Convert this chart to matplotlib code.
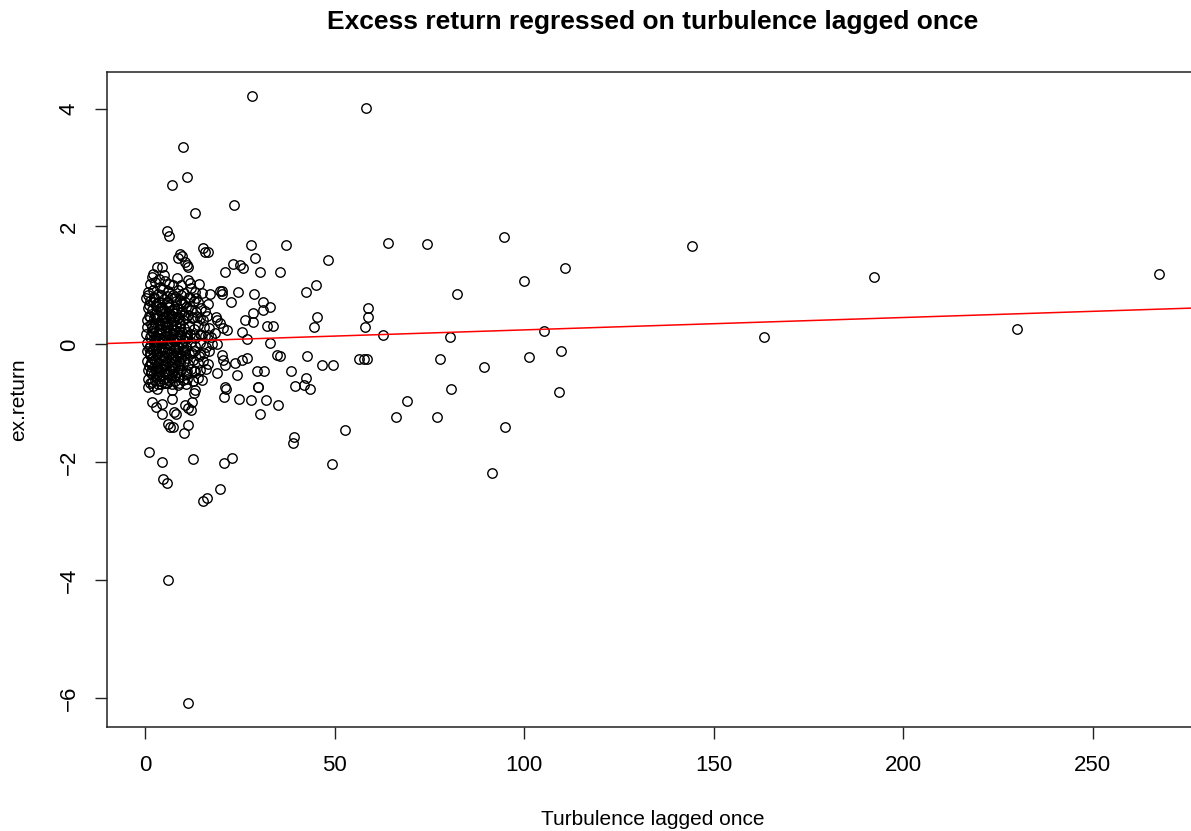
import matplotlib
matplotlib.use('Agg')
import matplotlib.pyplot as plt

plt.rcParams['font.family'] = ['Liberation Sans', 'DejaVu Sans']

# dense cluster near zero turbulence, read band by band
core_x = [1.8, 2.2, 3.1, 4.4, 3.6, 5.0,
          1.2, 2.6, 4.0, 6.2, 7.3, 8.4, 11.4, 11.9, 14.3, 5.3, 9.6,
          0.9, 2.0, 3.3, 4.7, 6.0, 8.8, 10.2, 13.2, 15.0, 17.2, 19.9, 20.4, 20.2, 7.4, 12.0,
          0.26, 1.4, 2.5, 3.7, 4.9, 5.8, 6.9, 8.1, 9.3, 10.6, 11.8, 12.9, 14.1, 16.7,
          0.8, 1.9, 2.9, 3.9, 4.6, 5.5, 6.4, 7.2, 8.5, 9.7, 10.9, 12.1, 13.5, 14.8, 15.9,
          0.4, 1.1, 2.3, 3.2, 4.1, 5.0, 5.9, 6.8, 7.7, 8.9, 10.0, 11.3, 12.5, 13.8, 15.2, 16.4, 18.7, 19.1,
          0.6, 1.5, 2.4, 3.4, 4.3, 5.2, 6.1, 7.0, 8.0, 9.1, 10.3, 11.6, 12.8, 14.0, 15.5, 16.9, 19.8, 20.7, 21.6,
          0.3, 1.2, 2.1, 3.0, 3.9, 4.8, 5.7, 6.6, 7.5, 8.4, 9.4, 10.6, 11.9, 13.1, 14.4, 15.8, 17.3, 18.4,
          0.5, 1.4, 2.3, 3.2, 4.1, 5.0, 5.9, 6.8, 7.7, 8.6, 9.7, 10.8, 12.0, 13.3, 14.6, 16.0, 17.6, 19.0,
          0.4, 1.3, 2.2, 3.1, 4.0, 4.9, 5.8, 6.7, 7.6, 8.5, 9.5, 10.5, 11.7, 12.9, 14.2, 15.6, 17.0, 20.2,
          0.6, 1.5, 2.5, 3.4, 4.4, 5.3, 6.2, 7.1, 8.1, 9.1, 10.2, 11.4, 12.6, 13.9, 15.3, 16.5, 20.6, 21.1,
          0.7, 1.7, 2.7, 3.6, 4.6, 5.6, 6.5, 7.5, 8.5, 9.6, 10.8, 12.0, 13.3, 14.6, 16.2, 18.9,
          0.9, 1.8, 2.9, 3.9, 4.8, 5.9, 6.8, 7.9, 9.0, 10.1, 11.2, 12.7, 13.9, 15.1,
          0.8, 2.0, 3.1, 4.2,
          1.0, 2.8, 4.5, 6.3, 8.2, 10.1, 3.6, 5.4, 7.3, 9.2,
          1.9, 3.7, 5.6, 7.4, 9.0, 11.0, 2.6, 4.6, 6.5, 8.3, 10.4,
          1.0, 2.8, 4.6, 6.3, 8.0, 9.9, 1.9, 3.8, 5.5, 7.4, 9.4, 11.2,
          1.1, 2.9, 4.9, 6.9, 8.8, 2.1, 4.0, 6.0, 7.9,
          0.7, 2.4, 4.2, 5.9, 7.8, 9.6, 11.5, 13.4,
          1.4, 3.2, 5.1, 6.9, 8.8, 10.7, 12.6, 14.5,
          1.6, 3.5, 5.3, 7.2, 9.1, 11.0, 12.9, 14.8, 16.6,
          1.3, 3.1, 5.0, 6.9, 8.7, 10.6, 12.5, 14.4,
          1.6, 3.5, 5.4, 7.3, 9.2, 11.1, 13.0,
          1.3, 3.3, 5.2, 7.0, 8.9, 10.8,
          2.0, 3.9, 5.7, 7.6, 9.5, 11.3, 2.7, 4.5, 6.4, 8.2, 10.2,
          1.8, 3.6, 5.5, 7.4, 9.3, 11.2, 2.5, 4.4, 6.2, 8.1, 10.0,
          1.7, 3.5, 5.3, 7.1, 9.0, 10.9, 2.6, 4.3, 6.1, 8.0]
core_y = [1.15, 1.20, 1.32, 1.32, 1.10, 1.18,
          1.02, 1.06, 0.98, 1.03, 1.00, 1.12, 1.09, 1.04, 1.03, 1.08, 1.01,
          0.88, 0.92, 0.86, 0.94, 0.90, 0.93, 0.87, 0.89, 0.87, 0.86, 0.91, 0.91, 0.86, 0.84, 0.95,
          0.78, 0.74, 0.79, 0.72, 0.77, 0.70, 0.78, 0.73, 0.76, 0.71, 0.79, 0.74, 0.72, 0.69,
          0.62, 0.58, 0.65, 0.57, 0.63, 0.56, 0.64, 0.59, 0.61, 0.55, 0.63, 0.58, 0.55, 0.62, 0.57,
          0.41, 0.48, 0.44, 0.50, 0.42, 0.47, 0.40, 0.49, 0.43, 0.46, 0.41, 0.49, 0.44, 0.47, 0.42, 0.48, 0.46, 0.41,
          0.30, 0.34, 0.27, 0.33, 0.26, 0.35, 0.29, 0.32, 0.25, 0.34, 0.28, 0.31, 0.26, 0.33, 0.29, 0.27, 0.36, 0.27, 0.24,
          0.18, 0.12, 0.19, 0.13, 0.20, 0.11, 0.17, 0.14, 0.19, 0.10, 0.16, 0.13, 0.18, 0.11, 0.17, 0.14, 0.12, 0.19,
          0.02, -0.03, 0.04, -0.02, 0.03, -0.04, 0.01, -0.01, 0.05, -0.03, 0.02, -0.05, 0.04, -0.02, 0.03, -0.04, 0.01, 0.00,
          -0.12, -0.18, -0.10, -0.16, -0.11, -0.19, -0.13, -0.17, -0.10, -0.15, -0.20, -0.12, -0.17, -0.11, -0.19, -0.14, -0.12, -0.18,
          -0.28, -0.33, -0.26, -0.31, -0.27, -0.35, -0.29, -0.33, -0.26, -0.32, -0.28, -0.34, -0.27, -0.31, -0.29, -0.34, -0.27, -0.35,
          -0.43, -0.48, -0.41, -0.46, -0.42, -0.49, -0.44, -0.40, -0.47, -0.43, -0.49, -0.41, -0.46, -0.44, -0.42, -0.49,
          -0.58, -0.64, -0.56, -0.62, -0.59, -0.65, -0.57, -0.62, -0.55, -0.61, -0.58, -0.63, -0.57, -0.60,
          -0.72, -0.70, -0.75, -0.68,
          0.66, 0.69, 0.52, 0.67, 0.53, 0.68, 0.37, 0.38, 0.53, 0.36,
          0.22, 0.24, 0.22, 0.25, 0.23, 0.21, 0.07, 0.08, 0.06, 0.08, 0.07,
          -0.07, -0.06, -0.08, -0.06, -0.07, -0.09, -0.23, -0.22, -0.24, -0.21, -0.24, -0.23,
          -0.37, -0.38, -0.37, -0.39, -0.36, -0.52, -0.53, -0.51, -0.54,
          0.83, 0.81, 0.84, 0.82, 0.80, 0.83, 0.81, 0.79,
          0.46, 0.44, 0.45, 0.47, 0.45, 0.44, 0.46, 0.45,
          0.15, 0.16, 0.14, 0.16, 0.15, 0.14, 0.16, 0.15, 0.15,
          -0.14, -0.15, -0.13, -0.14, -0.16, -0.15, -0.14, -0.16,
          -0.45, -0.44, -0.46, -0.45, -0.44, -0.46, -0.45,
          -0.66, -0.67, -0.65, -0.68, -0.66, -0.67,
          0.72, 0.60, 0.71, 0.59, 0.70, 0.61, 0.51, 0.33, 0.52, 0.31, 0.50,
          0.29, 0.10, 0.30, 0.09, 0.28, 0.11, -0.01, -0.20, 0.00, -0.19, -0.02,
          -0.30, -0.50, -0.31, -0.51, -0.29, -0.50, -0.60, -0.40, -0.61, -0.39]

# scattered points away from the cluster
spread_x = [28.3, 58.4, 9.9, 11.0, 7.1, 13.2, 23.4, 5.7, 6.4, 28.0, 37.2, 9.2, 8.8, 9.7,
            15.4, 15.8, 16.7, 10.6, 11.2, 11.4, 23.3, 25.1, 25.8, 29.0, 30.2, 35.5, 21.2,
            64.1, 74.4, 94.6, 144.3, 192.3, 267.5, 230.1, 163.3, 110.9, 99.9, 105.2, 82.2,
            101.4, 109.8, 109.2, 95.0, 91.4, 89.3, 80.4, 80.7, 77.7, 76.9, 69.0, 66.2, 52.8,
            49.3, 62.7, 58.8, 58.8, 58.1, 56.4, 57.8, 58.5, 48.2, 45.0, 42.5, 45.4, 44.6, 42.8,
            35.6, 46.7, 49.6, 38.6, 42.5, 39.6, 42.0, 43.6, 35.1, 39.4, 39.0,
            24.6, 28.8, 22.7, 31.2, 33.0, 31.2, 26.4, 28.4, 28.4, 32.1, 33.7, 25.5, 26.8, 33.0,
            34.8, 26.8, 25.5, 23.7, 24.2, 29.5, 31.5, 29.9, 21.1,
            1.06, 4.6, 4.8, 5.7, 12.7, 20.8, 23.0, 19.9, 15.3, 16.4, 29.8, 21.3, 20.8, 24.8,
            28.0, 31.8, 30.4, 11.3, 10.3, 6.1, 6.6, 7.5, 1.8, 2.8, 4.6, 4.6, 7.7, 8.2, 7.0, 7.0,
            10.6, 11.4, 12.1, 12.3, 13.0, 13.2, 12.7, 8.8, 6.0, 11.3]
spread_y = [4.21, 4.01, 3.34, 2.84, 2.70, 2.22, 2.36, 1.93, 1.84, 1.68, 1.68, 1.53, 1.46, 1.50,
            1.63, 1.57, 1.56, 1.40, 1.34, 1.32, 1.37, 1.34, 1.29, 1.46, 1.22, 1.22, 1.22,
            1.72, 1.70, 1.82, 1.67, 1.14, 1.19, 0.26, 0.12, 1.29, 1.07, 0.22, 0.86,
            -0.21, -0.12, -0.80, -1.40, -2.19, -0.39, 0.13, -0.76, -0.25, -1.24, -0.96, -1.24, -1.46,
            -2.03, 0.15, 0.61, 0.47, 0.29, -0.25, -0.25, -0.25, 1.43, 1.00, 0.88, 0.47, 0.29, -0.19,
            -0.19, -0.35, -0.35, -0.46, -0.57, -0.71, -0.69, -0.76, -1.03, -1.58, -1.67,
            0.89, 0.86, 0.71, 0.71, 0.64, 0.58, 0.42, 0.53, 0.38, 0.31, 0.31, 0.21, 0.09, 0.02,
            -0.18, -0.24, -0.27, -0.31, -0.52, -0.46, -0.46, -0.72, -0.72,
            -1.83, -2.00, -2.28, -2.36, -1.94, -2.01, -1.92, -2.46, -2.65, -2.60, -0.73, -0.76, -0.89, -0.92,
            -0.94, -0.94, -1.19, -1.37, -1.51, -1.35, -1.40, -1.40, -0.98, -1.06, -1.02, -1.19, -1.14, -1.19, -0.92, -0.77,
            -1.03, -1.08, -1.11, -0.97, -0.83, -0.77, -0.63, -0.69, -3.99, -6.08]

# fitted line ex.return ~ turbulence (intercept, slope)
lm_coef = [0.035, 0.0021]

x_ticks = [0, 50, 100, 150, 200, 250]
y_ticks = [-6, -4, -2, 0, 2, 4]

fig = plt.figure(figsize=(11.91, 8.31), dpi=100)
ax = fig.add_axes([0.0896, 0.1252, 0.9171, 0.7882])

ax.plot(core_x + spread_x, core_y + spread_y, linestyle='none', marker='o',
        markersize=6.8, markerfacecolor='none', markeredgecolor='black', markeredgewidth=1.0)
ax.axline((0, lm_coef[0]), slope=lm_coef[1], color='red', linewidth=1.1)

ax.set_xlim(-10.1, 278.0)
ax.set_ylim(-6.49, 4.62)
ax.set_xticks(x_ticks)
ax.set_yticks(y_ticks)
ax.tick_params(axis='both', direction='out', length=8.5, width=1, labelsize=16, color='#222222')
ax.tick_params(axis='x', pad=12)
ax.tick_params(axis='y', pad=11)
for lbl in ax.get_yticklabels():
  lbl.set_rotation(90)
  lbl.set_va('center')
for sp in ax.spines.values():
  sp.set_linewidth(1.1)
  sp.set_color('#222222')

ax.set_xlabel('Turbulence lagged once', fontsize=15, labelpad=24)
ax.set_ylabel('ex.return', fontsize=15, labelpad=22)
ax.set_title('Excess return regressed on turbulence lagged once', fontsize=19,
             fontweight='bold', x=(653 - 106.7) / (1199 - 106.7), pad=31)

plt.savefig('out.png', dpi=100)
